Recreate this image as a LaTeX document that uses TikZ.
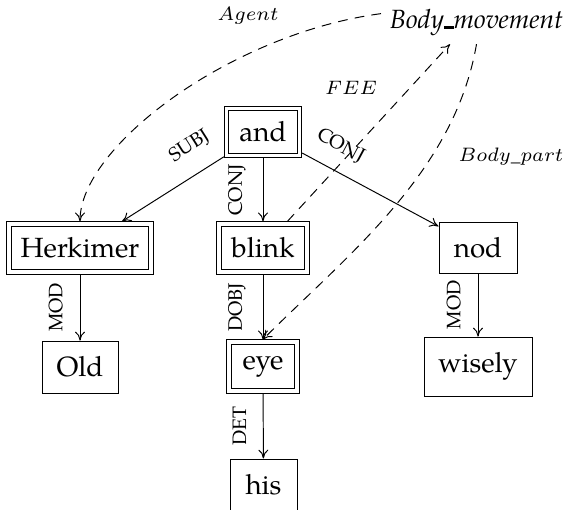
\documentclass[tikz,border=0pt]{standalone}
\usepackage{fontspec}
\setmainfont{TeX Gyre Pagella}
\usetikzlibrary{arrows.meta}
\begin{document}
\begin{tikzpicture}[x=0.36pt,y=0.36pt,
  >={To[length=3.2pt,width=3.6pt]},
  nbox/.style={draw, line width=0.35pt, inner sep=2pt, font=\fontsize{10}{12}\selectfont},
  dnbox/.style={nbox, double, double distance=1.15pt, outer sep=0.95pt},
  deparc/.style={->, line width=0.35pt},
  framearc/.style={->, line width=0.35pt, dash pattern=on 3.5pt off 2.6pt},
  vlab/.style={midway, rotate=90, anchor=south, inner xsep=0pt, inner ysep=6pt, font=\fontsize{7}{8}\selectfont},
  slab/.style={pos=0.2, sloped, anchor=south, inner xsep=0pt, inner ysep=6pt, font=\fontsize{7}{8}\selectfont},
  flab/.style={inner sep=0pt, font=\fontsize{7}{8}\selectfont}
]
\useasboundingbox (0,0) rectangle (566,-510);

\node[dnbox, minimum width=26.28pt, minimum height=16.92pt] (and) at (263,-132) {and};
\node[dnbox, minimum width=51.12pt, minimum height=17.28pt] (herk) at (80,-248) {Herkimer};
\node[dnbox, minimum width=31.68pt, minimum height=17.28pt] (blink) at (263,-248) {blink};
\node[nbox, minimum width=28.08pt, minimum height=18.36pt] (nod) at (478,-247.5) {nod};
\node[nbox, minimum width=27.36pt, minimum height=18.72pt] (old) at (80,-367) {Old};
\node[dnbox, minimum width=24.48pt, minimum height=17.64pt] (eye) at (263,-366.5) {eye};
\node[nbox, minimum width=38.88pt, minimum height=21.24pt] (wisely) at (478,-366.5) {wisely};
\node[nbox, minimum width=24.12pt, minimum height=18.36pt] (his) at (263.5,-484.5) {his};
\node[inner sep=3pt, font=\fontsize{9.5}{11}\selectfont] (bm) at (476.5,-22) {\textit{Body\rule[-0.3pt]{3.4pt}{0.9pt}movement}};

\node[flab] (agentlab) at (248,-16) {$Agent$};
\node[flab] (feelab) at (351,-88) {$FEE$};
\node[flab] (bplab) at (511,-157) {$Body\_part$};

\draw[deparc] (and) -- node[slab, pos=0.19, inner ysep=6.3pt] {SUBJ} (herk);
\draw[deparc] (and) -- node[vlab] {CONJ} (blink);
\draw[deparc] (and) -- node[slab, inner ysep=5.3pt] {CONJ} (nod);
\draw[deparc] (herk) -- node[vlab] {MOD} (old);
\draw[deparc] (blink) -- node[vlab] {DOBJ} (eye);
\draw[deparc] (eye) -- node[vlab] {DET} (his);
\draw[deparc] (nod) -- node[vlab] {MOD} (wisely);

\draw[framearc] (bm.175) .. controls +(-150,-20) and +(0,75) .. (herk.north);
\draw[framearc] (blink) -- (bm.220);
\draw[framearc] (bm.south) .. controls +(-22,-128) and +(85,85) .. (eye.north);
\end{tikzpicture}
\end{document}
